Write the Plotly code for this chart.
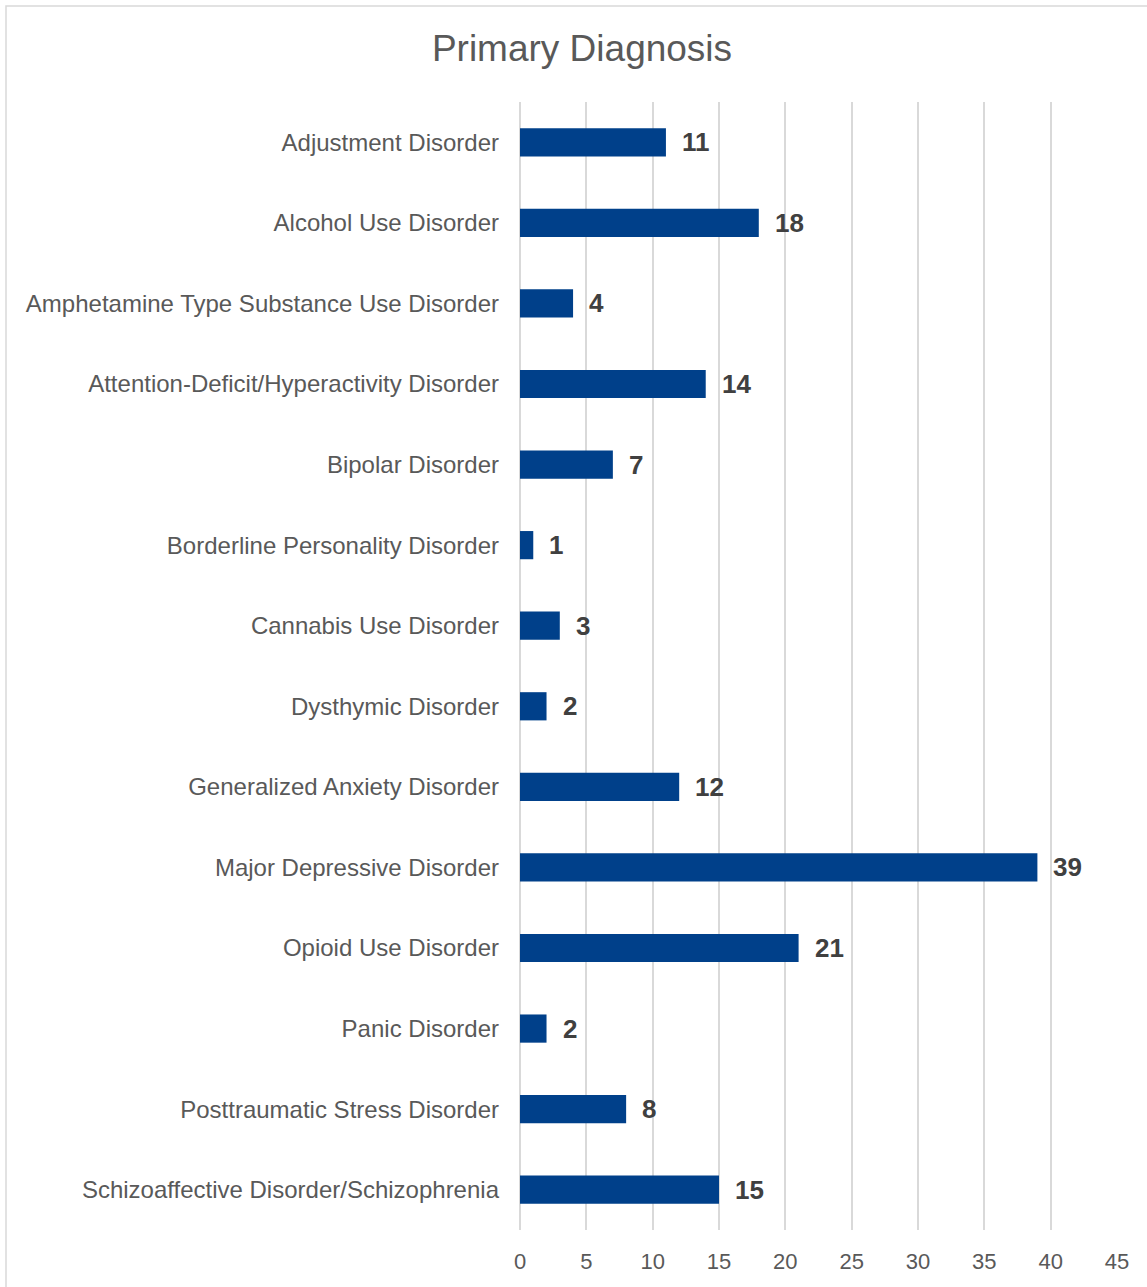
import plotly.graph_objects as go

categories = [
    "Adjustment Disorder",
    "Alcohol Use Disorder",
    "Amphetamine Type Substance Use Disorder",
    "Attention-Deficit/Hyperactivity Disorder",
    "Bipolar Disorder",
    "Borderline Personality Disorder",
    "Cannabis Use Disorder",
    "Dysthymic Disorder",
    "Generalized Anxiety Disorder",
    "Major Depressive Disorder",
    "Opioid Use Disorder",
    "Panic Disorder",
    "Posttraumatic Stress Disorder",
    "Schizoaffective Disorder/Schizophrenia",
]
counts = [11, 18, 4, 14, 7, 1, 3, 2, 12, 39, 21, 2, 8, 15]
x_ticks = [0, 5, 10, 15, 20, 25, 30, 35, 40, 45]

W, H = 1147, 1287
L, R, T, B = 520, 30, 102, 57
pw, ph = W - L - R, H - T - B

fig = go.Figure()
fig.add_trace(go.Bar(
    x=counts, y=categories, orientation="h",
    marker=dict(color="#00408A", line=dict(width=0)),
    width=0.35, hoverinfo="x+y",
))

for c, v in zip(categories, counts):
    fig.add_annotation(
        x=v, y=c, xref="x", yref="y", text=str(v), showarrow=False,
        xanchor="left", yanchor="middle", xshift=14,
        font=dict(family="Liberation Sans, Arial, sans-serif", size=26, color="#404040", weight="bold"),
    )

# outer chart border
fig.add_shape(
    type="rect", xref="paper", yref="paper",
    x0=(6 - L) / pw, x1=1.3, y0=-0.3, y1=1 + (T - 6) / ph,
    line=dict(color="#d9d9d9", width=1.5), fillcolor="rgba(0,0,0,0)", layer="below",
)

fig.update_layout(
    width=W, height=H,
    margin=dict(l=L, r=R, t=T, b=B, pad=0),
    paper_bgcolor="white", plot_bgcolor="white",
    showlegend=False,
    title=dict(
        text="Primary Diagnosis", x=582 / W, xref="container", xanchor="center",
        y=1 - 48 / H, yref="container", yanchor="middle",
        font=dict(family="Liberation Sans, Arial, sans-serif", size=37, color="#595959"),
    ),
    bargap=0.65,
)
fig.update_xaxes(
    range=[0, 45], tickvals=x_ticks, ticktext=[str(t) for t in x_ticks],
    showgrid=True, gridcolor="#d9d9d9", gridwidth=1.5,
    zeroline=True, zerolinecolor="#d9d9d9", zerolinewidth=1.5,
    showline=False, ticks="", ticklabelstandoff=16,
    tickfont=dict(family="Liberation Sans, Arial, sans-serif", size=22, color="#595959"),
)
fig.update_yaxes(
    autorange="reversed", showgrid=False, zeroline=False, showline=False,
    ticks="", ticklabelstandoff=20,
    tickfont=dict(family="Liberation Sans, Arial, sans-serif", size=24, color="#595959"),
)

fig.write_html("out.html")
